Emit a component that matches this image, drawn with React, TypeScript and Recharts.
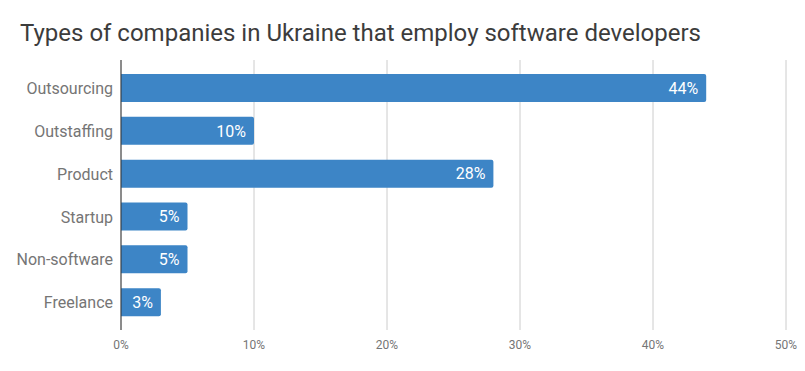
import React from "react";
import { BarChart, Bar, XAxis, YAxis, CartesianGrid, LabelList } from "recharts";

const categories = ["Outsourcing", "Outstaffing", "Product", "Startup", "Non-software", "Freelance"];
const shares = [44, 10, 28, 5, 5, 3];
const xTicks = [0, 10, 20, 30, 40, 50];
const title = "Types of companies in Ukraine that employ software developers";

const data = categories.map((name, i) => ({ name, value: shares[i] }));

export default function App() {
  return (
    <div style={{ position: "absolute", left: 0, top: 0, width: 805, height: 371, background: "#fff", fontFamily: "Roboto, sans-serif" }}>
      <div style={{ position: "absolute", left: 20, top: 21, fontSize: 24, lineHeight: "24px", color: "#3c3c3c", whiteSpace: "nowrap" }}>
        {title}
      </div>
      <BarChart
        width={805}
        height={371}
        data={data}
        layout="vertical"
        margin={{ top: 60, right: 19, bottom: 11, left: 0 }}
        style={{ fontFamily: "Roboto, sans-serif" }}
      >
        <CartesianGrid horizontal={false} vertical={true} stroke="#cccccc" />
        <XAxis
          type="number"
          domain={[0, 50]}
          ticks={xTicks}
          tickFormatter={(v: number) => `${v}%`}
          axisLine={false}
          tickLine={false}
          tickMargin={4}
          height={30}
          tick={{ fontSize: 12, fill: "#757575" }}
          interval={0}
        />
        <YAxis
          type="category"
          dataKey="name"
          width={121}
          axisLine={{ stroke: "#333333" }}
          tickLine={false}
          padding={{ top: 7, bottom: 6 }}
          tick={{ fontSize: 16, fill: "#757575" }}
          interval={0}
        />
        <Bar dataKey="value" fill="#3d85c6" barSize={28} radius={[0, 2, 2, 0]} isAnimationActive={false}>
          <LabelList
            dataKey="value"
            position="insideRight"
            offset={8}
            fill="#ffffff"
            fontSize={16}
            formatter={(v: number) => `${v}%`}
          />
        </Bar>
      </BarChart>
    </div>
  );
}
